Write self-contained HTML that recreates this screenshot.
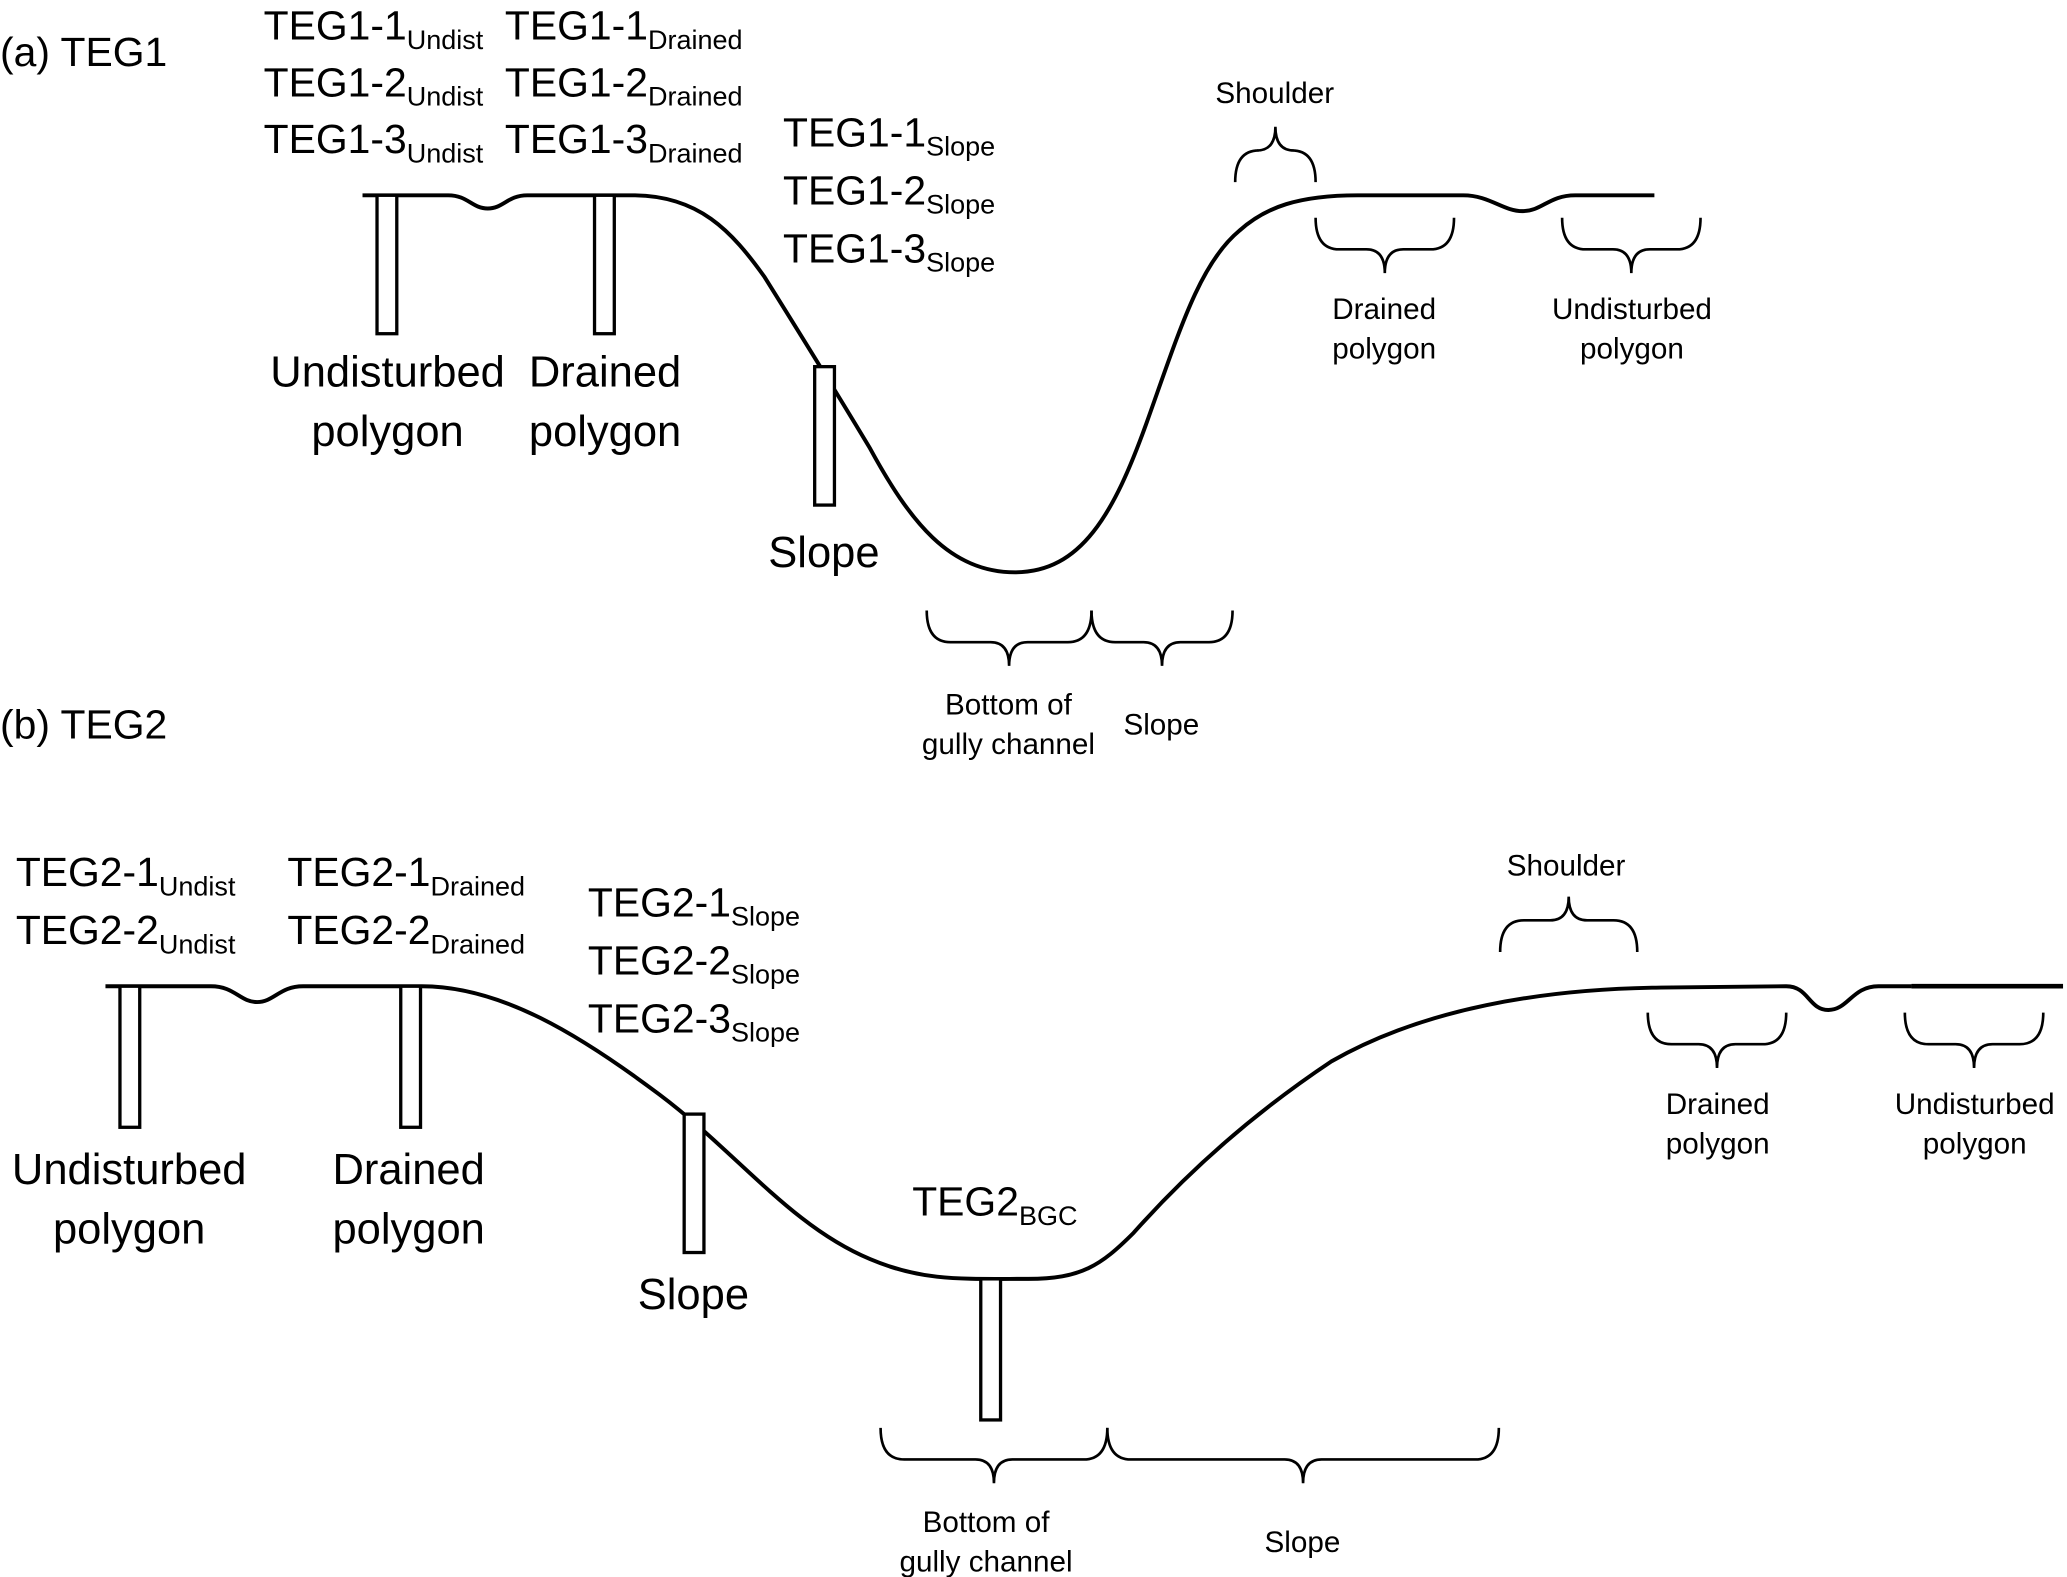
<!DOCTYPE html>
<html><head><meta charset="utf-8"><style>
html,body{margin:0;padding:0;background:#fff;}
svg{display:block;}
text{font-family:"Liberation Sans",sans-serif;fill:#000;}
.L{font-size:31px;}
.S{font-size:22.5px;}
.sub{font-size:20.5px;}
.L2{font-size:33px;}
</style></head><body>
<svg id="s" width="2067" height="1577" viewBox="0 0 1568 1196" xmlns="http://www.w3.org/2000/svg">
<rect width="1568" height="1196" fill="#fff"/>
<g fill="none" stroke="#000" stroke-width="3">
<path d="M275 148 L340 148 C355 148 358 158 370 158 C382 158 385 148 400 148 L480 148 C530 148 555 175 580 210 C605 250 630 290 660 340 C690 395 720 434 770 434 C820 434 845 390 870 320 C895 250 910 200 940 175 C960 157 985 148 1030 148 L1110 148 C1130 148 1140 160 1155 160 C1170 160 1175 148 1195 148 L1255 148"/>
<path d="M80 748 L160 748 C178 748 182 760 195 760 C208 760 212 748 230 748 L320 748 C380 748 440 785 500 830 C560 875 600 930 660 955 C700 972 730 970 780 970 C820 970 835 960 860 935 C900 890 950 845 1010 805 C1080 765 1170 750 1260 749 L1355 748 C1372 748 1372 766 1387 766 C1402 766 1405 748 1425 748 L1450 748"/>
<path d="M1450 748 L1565 748" stroke-width="3.5"/>
</g>
<g fill="#fff" stroke="#000" stroke-width="2.5">
<rect x="286" y="148" width="15" height="105"/>
<rect x="451" y="148" width="15" height="105"/>
<rect x="618" y="278" width="15" height="105"/>
<rect x="91" y="748" width="15" height="107"/>
<rect x="304" y="748" width="15" height="107"/>
<rect x="519" y="845" width="15" height="105"/>
<rect x="744" y="970" width="15" height="107"/>
</g>
<g id="braces" fill="none" stroke="#000" stroke-width="2"></g>

<text class="L" x="0" y="50">(a) TEG1</text>
<text class="L" x="200" y="30">TEG1-1<tspan class="sub" dy="7">Undist</tspan></text>
<text class="L" x="200" y="73">TEG1-2<tspan class="sub" dy="7">Undist</tspan></text>
<text class="L" x="200" y="116">TEG1-3<tspan class="sub" dy="7">Undist</tspan></text>
<text class="L" x="383" y="30">TEG1-1<tspan class="sub" dy="7">Drained</tspan></text>
<text class="L" x="383" y="73">TEG1-2<tspan class="sub" dy="7">Drained</tspan></text>
<text class="L" x="383" y="116">TEG1-3<tspan class="sub" dy="7">Drained</tspan></text>
<text class="L" x="594" y="111">TEG1-1<tspan class="sub" dy="7">Slope</tspan></text>
<text class="L" x="594" y="155">TEG1-2<tspan class="sub" dy="7">Slope</tspan></text>
<text class="L" x="594" y="199">TEG1-3<tspan class="sub" dy="7">Slope</tspan></text>
<g text-anchor="middle">
<text class="L2" x="294" y="293">Undisturbed</text>
<text class="L2" x="294" y="338">polygon</text>
<text class="L2" x="459" y="293">Drained</text>
<text class="L2" x="459" y="338">polygon</text>
<text class="L2" x="625" y="430">Slope</text>
<text class="S" x="967" y="78">Shoulder</text>
<text class="S" x="1050" y="242">Drained</text>
<text class="S" x="1050" y="272">polygon</text>
<text class="S" x="1238" y="242">Undisturbed</text>
<text class="S" x="1238" y="272">polygon</text>
<text class="S" x="765" y="542">Bottom of</text>
<text class="S" x="765" y="572">gully channel</text>
<text class="S" x="881" y="557">Slope</text>
</g>

<text class="L" x="0" y="560">(b) TEG2</text>
<text class="L" x="12" y="672">TEG2-1<tspan class="sub" dy="7">Undist</tspan></text>
<text class="L" x="12" y="716">TEG2-2<tspan class="sub" dy="7">Undist</tspan></text>
<text class="L" x="218" y="672">TEG2-1<tspan class="sub" dy="7">Drained</tspan></text>
<text class="L" x="218" y="716">TEG2-2<tspan class="sub" dy="7">Drained</tspan></text>
<text class="L" x="446" y="695">TEG2-1<tspan class="sub" dy="7">Slope</tspan></text>
<text class="L" x="446" y="739">TEG2-2<tspan class="sub" dy="7">Slope</tspan></text>
<text class="L" x="446" y="783">TEG2-3<tspan class="sub" dy="7">Slope</tspan></text>
<text class="L" x="692" y="922">TEG2<tspan class="sub" dy="7">BGC</tspan></text>
<g text-anchor="middle">
<text class="L2" x="98" y="898">Undisturbed</text>
<text class="L2" x="98" y="943">polygon</text>
<text class="L2" x="310" y="898">Drained</text>
<text class="L2" x="310" y="943">polygon</text>
<text class="L2" x="526" y="993">Slope</text>
<text class="S" x="1188" y="664">Shoulder</text>
<text class="S" x="1303" y="845">Drained</text>
<text class="S" x="1303" y="875">polygon</text>
<text class="S" x="1498" y="845">Undisturbed</text>
<text class="S" x="1498" y="875">polygon</text>
<text class="S" x="748" y="1162">Bottom of</text>
<text class="S" x="748" y="1192">gully channel</text>
<text class="S" x="988" y="1177">Slope</text>
</g>
</svg>
<script>
(function(){
var g=document.getElementById('braces');
function brace(x1,x2,y0,dir){
 var m=(x1+x2)/2,h=24*dir,t=18*dir;
 var d='M'+x1+' '+y0+' Q'+x1+' '+(y0+h)+' '+(x1+18)+' '+(y0+h)+' L'+(m-14)+' '+(y0+h)+' Q'+m+' '+(y0+h)+' '+m+' '+(y0+h+t)+' Q'+m+' '+(y0+h)+' '+(m+14)+' '+(y0+h)+' L'+(x2-18)+' '+(y0+h)+' Q'+x2+' '+(y0+h)+' '+x2+' '+y0;
 var p=document.createElementNS('http://www.w3.org/2000/svg','path');p.setAttribute('d',d);g.appendChild(p);
}
brace(937,998,138,-1);
brace(998,1103,165,1);
brace(1185,1290,165,1);
brace(703,828,463,1);
brace(828,935,463,1);
brace(1138,1242,722,-1);
brace(1250,1355,768,1);
brace(1445,1550,768,1);
brace(668,840,1083,1);
brace(840,1137,1083,1);
})();
</script>
</body></html>
